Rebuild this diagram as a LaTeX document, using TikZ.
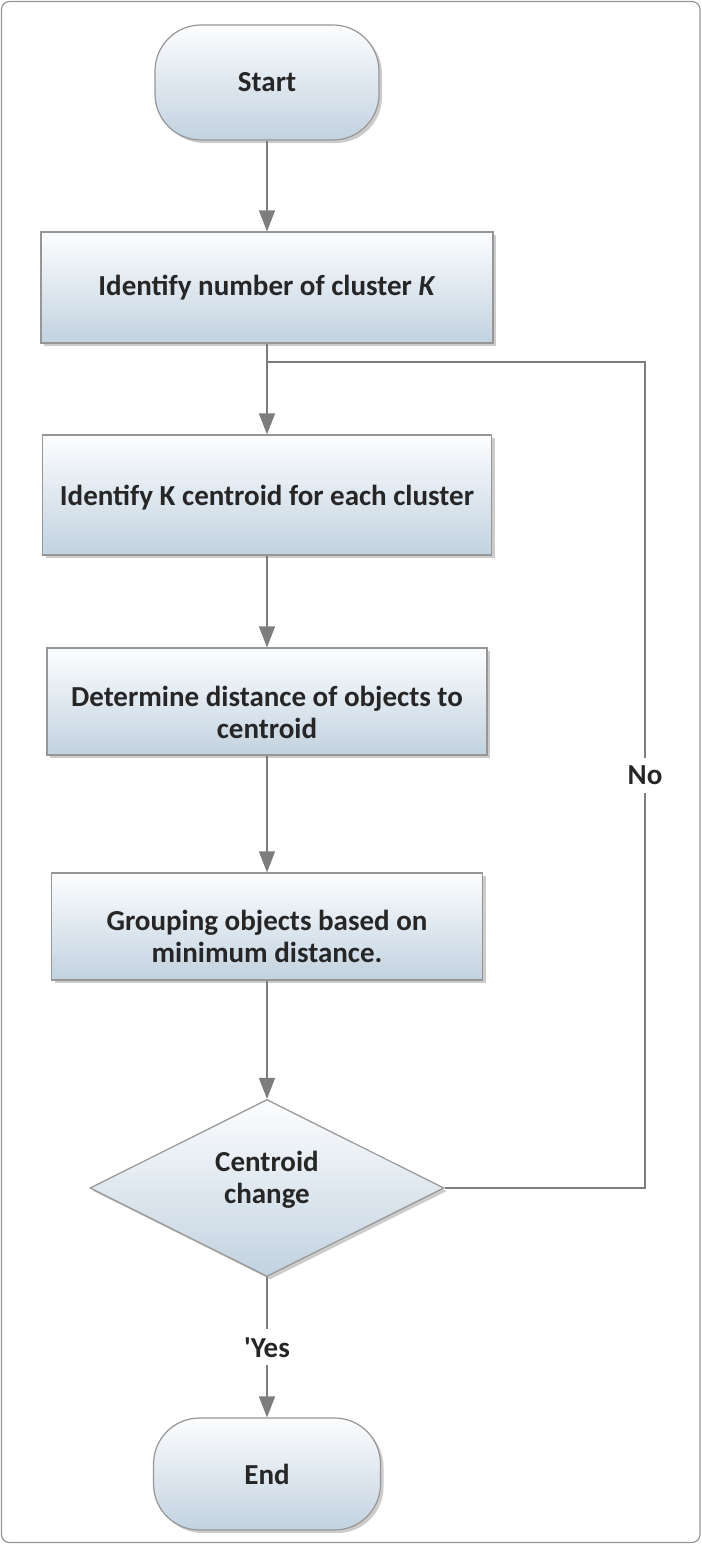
\documentclass[tikz,border=0pt]{standalone}
\usepackage{fontspec}
\setmainfont{Carlito}
\usetikzlibrary{arrows.meta}
\usetikzlibrary{shapes.geometric}
\usetikzlibrary{shadows}

\definecolor{linegray}{RGB}{125,125,125}
\definecolor{edgegray}{RGB}{150,150,150}
\definecolor{boxtop}{RGB}{252,253,254}
\definecolor{boxbot}{RGB}{194,210,224}

\begin{document}
\begin{tikzpicture}[x=0.5pt,y=-0.5pt,>={Triangle[width=8pt,length=10.5pt]},
        every node/.style={font=\bfseries\fontsize{14.5}{16}\selectfont, text=black!85},
        shaded/.style={draw=edgegray, line width=0.6pt, top color=boxtop, bottom color=boxbot,
            drop shadow={shadow xshift=1.5pt, shadow yshift=-1.5pt, opacity=0.4}},
        terminal/.style={shaded, rounded corners=23pt, minimum width=112pt, minimum height=57.5pt},
        process/.style={shaded, align=center},
        decision/.style={shaded, diamond, aspect=2, inner sep=0pt, align=center,
            minimum width=177pt, minimum height=88.5pt},
        flow/.style={draw=linegray, line width=0.75pt, ->},
        link/.style={draw=linegray, line width=0.75pt},
        tag/.style={fill=white, inner xsep=1pt, inner ysep=4pt}]

        \useasboundingbox (0,0) rectangle (702,1544);
        \draw[edgegray, line width=0.6pt, rounded corners=4pt] (1.5,1.5) rectangle (700,1542.5);

        \node[terminal] (start) at (267,82.5) {Start};
        \node[process, minimum width=226pt, minimum height=55.5pt] (nclust) at (267,287.5) {Identify number of cluster \textit{K}};
        \node[process, minimum width=224.5pt, minimum height=60pt, text height=13pt] (cent) at (267,495) {Identify K centroid for each cluster};
        \node[process, minimum width=220pt, minimum height=53.5pt, text height=37pt] (dist) at (267,701.5) {Determine distance of objects to\\centroid};
        \node[process, minimum width=215.5pt, minimum height=53.5pt, text height=36pt] (group) at (267,926.5) {Grouping objects based on\\minimum distance.};
        \node[decision, text depth=11pt] (change) at (267,1188) {Centroid\\change};
        \node[terminal, minimum width=113.5pt, minimum height=56pt] (stop) at (267,1474) {End};

        \draw[flow] (start) -- (nclust);
        \draw[flow] (nclust) -- (cent);
        \draw[flow] (cent) -- (dist);
        \draw[flow] (dist) -- (group);
        \draw[flow] (group) -- (change);
        \draw[flow] (change) -- node[tag] {\textquotesingle Yes} (stop);

        % back to the centroid step
        \coordinate (back) at (645,362);
        \draw[link] (change.east) -| node[tag, pos=0.75] {No} (back) -- (back -| nclust.south);
\end{tikzpicture}
\end{document}
